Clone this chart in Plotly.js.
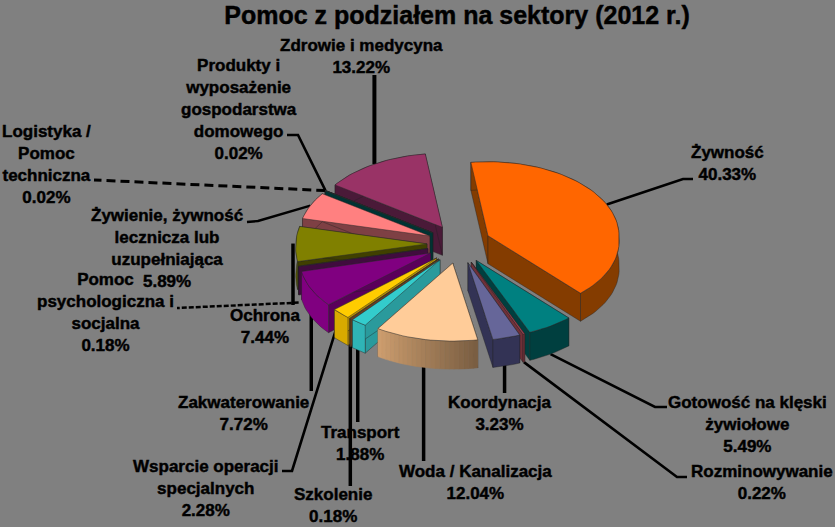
<!DOCTYPE html>
<html><head><meta charset="utf-8">
<script src="https://cdn.plot.ly/plotly-3.0.1.min.js"></script>
<style>html,body{margin:0;padding:0;background:#808080}#c{width:835px;height:527px}
svg text{stroke:#000;stroke-width:.45px}</style></head>
<body><div id="c"></div>
<script>
// ---- data ----
const sectors = ["Żywność","Gotowość na klęski żywiołowe","Rozminowywanie","Koordynacja","Woda / Kanalizacja","Transport","Szkolenie","Wsparcie operacji specjalnych","Zakwaterowanie","Pomoc psychologiczna i socjalna","Ochrona","Żywienie, żywność lecznicza lub uzupełniająca","Logistyka / Pomoc techniczna","Produkty i wyposażenie gospodarstwa domowego","Zdrowie i medycyna"];
const shares = [40.33,5.49,0.22,3.23,12.04,1.88,0.18,2.28,7.72,0.18,7.44,5.89,0.02,0.02,13.22];
const labelLines = [["Żywność"],["Gotowość na klęski","żywiołowe"],["Rozminowywanie"],["Koordynacja"],["Woda / Kanalizacja"],["Transport"],["Szkolenie"],["Wsparcie operacji","specjalnych"],["Zakwaterowanie"],["Pomoc","psychologiczna i","socjalna"],["Ochrona"],["Żywienie, żywność","lecznicza lub","uzupełniająca"],["Logistyka /","Pomoc","techniczna"],["Produkty i","wyposażenie","gospodarstwa","domowego"],["Zdrowie i medycyna"]];
// ---- styles ----
const topColors  = ["#FF6600","#008080","#A04050","#666699","#FFCC99","#33CCCC","#996633","#FFCC00","#800080","#4A1048","#808000","#FF8080","#003F3F","#003F3F","#993366"];
const sideColors = ["#843C00","#003F3F","#703038","#333355","#B08A60","#2A9A9C","#6A4020","#B89000","#5A005A","#400C3E","#404000","#7E4044","#003333","#003333","#4A1A38"];
const rimColors  = ["#843C00","#003F3F","#703038","#333355",null,"#2FB4B6","#6A4020","#D8AA00","#800080","#400C3E","#555500","#7E4044","#003333","#003333","#4A1A38"];
const rimGrad = ["#D0A070","#7A5E42"];
// ---- layout of labels ----
const labelPos = [[727,163],[747,424],[762,482],[500,413],[475,482],[360,443],[333,505],[206,488],[243,413],[105,312],[265,326],[167,248],[46,164],[239,109],[361,56]];
const leaders = [
 {i:0,pts:[[683,179],[693,179]],w:2.6},{i:1,oy:28,pts:[[655,407],[667,407]],w:2.6},{i:2,oy:28,pts:[[677,477],[687,477]],w:2.6},
 {i:3,v:393,dx:-2,w:3.5},{i:4,v:461,dx:-2,w:3.5},{i:5,v:422,dx:-1,w:3.5},{i:6,v:486,dx:0,w:3.5},{i:7,pts:[[292,471],[282,471]],w:2.6},
 {i:8,v:391,dx:0,w:3.5},{i:9,oy:36,pts:[[188,308],[177,308]],w:2.5,d:"5px,2px"},{i:10,v:305,dx:-3,w:3.5},{i:11,pts:[[258,221],[247,222]],w:2.4},
 {i:12,pts:[[94,180]],w:3,d:"9px,5px"},{i:13,pts:[[298,135],[287,135]],w:2.6},{i:14,v:75,w:4}
];
const G = {cx:459,cy:244,rx:131,rxFrontExtra:8,ryBack:74,ryFront:78,pullX:32,pullY:19.5,depth:28,start:-7.5};
// ---- geometry ----
const rad = d=>d*Math.PI/180;
const total = shares.reduce((a,b)=>a+b,0);
let acc = 0;
const slices = shares.map((v,i)=>{
  const a0 = G.start + acc/total*360; acc += v; const a1 = G.start + acc/total*360;
  const m = (a0+a1)/2;
  return {i,a0,a1,m,ax:G.cx+Math.sin(rad(m))*G.pullX,ay:G.cy-Math.cos(rad(m))*G.pullY};
});
const rim = (s,a)=>{const c=Math.cos(rad(a));return [s.ax+Math.sin(rad(a))*(G.rx+G.rxFrontExtra*Math.max(0,-c)), s.ay-c*(c<0?G.ryFront:G.ryBack)];};
const poly = (pts,fill,line,lw)=>({type:"scatter",mode:"lines",x:pts.map(p=>p[0]),y:pts.map(p=>p[1]),fill:"toself",fillcolor:fill,line:{color:line||fill,width:lw===undefined?0.6:lw},hoverinfo:"skip",showlegend:false});
const arcPts = (s,n)=>{const o=[];for(let k=0;k<=n;k++)o.push(rim(s,s.a0+(s.a1-s.a0)*k/n));return o;};
const down = p=>[p[0],p[1]+G.depth];
const mix=(a,b,t)=>{const h=c=>[1,3,5].map(j=>parseInt(c.substr(j,2),16));const A=h(a),B=h(b);return "rgb("+A.map((v,j)=>Math.round(v+(B[j]-v)*t)).join(",")+")";};

const traces = [];
// leader lines under the pie
leaders.forEach(l=>{
  const s = slices[l.i], r = rim(s,s.m), st=[r[0]+(l.dx||0),r[1]+(l.oy||0)];
  const pts = l.v!==undefined ? [st,[st[0],l.v]] : [st,...l.pts];
  traces.push({type:"scatter",mode:"lines",x:pts.map(p=>p[0]),y:pts.map(p=>p[1]),line:{color:"#000",width:l.w,dash:l.d||"solid"},hoverinfo:"skip",showlegend:false});
});
// slices, back to front
[...slices].sort((a,b)=>Math.cos(rad(b.m))-Math.cos(rad(a.m))).forEach(s=>{
  const arc = arcPts(s,Math.max(2,Math.ceil((s.a1-s.a0)/2)));
  const apex=[s.ax,s.ay], side=sideColors[s.i];
  traces.push(poly([apex,arc[0],down(arc[0]),down(apex),apex],side,"#222",0.4));
  traces.push(poly([apex,arc[arc.length-1],down(arc[arc.length-1]),down(apex),apex],side,"#222",0.4));
  if(rimColors[s.i]){
    traces.push(poly([...arc,...arc.slice().reverse().map(down),arc[0]],rimColors[s.i],"#222",0.4));
  } else {
    for(let k=0;k<arc.length-1;k++){
      const c=mix(rimGrad[0],rimGrad[1],1-k/(arc.length-1));
      traces.push(poly([arc[k],arc[k+1],down(arc[k+1]),down(arc[k]),arc[k]],c,c,0.5));
    }
  }
  traces.push(poly([apex,...arc,apex],topColors[s.i],"#2a2a2a",0.5));
});

const font = {family:"Liberation Sans, Arial, sans-serif",size:17,color:"#000"};
const annotations = sectors.map((n,i)=>({
  x:labelPos[i][0],y:labelPos[i][1],xref:"x",yref:"y",showarrow:false,xanchor:"center",yanchor:"middle",align:"center",
  text:"<b>"+labelLines[i].concat([shares[i].toFixed(2)+"%"]).join("<br>")+"</b>",font
}));
Plotly.newPlot("c",traces,{
  width:835,height:527,margin:{l:0,r:0,t:0,b:0},paper_bgcolor:"#808080",plot_bgcolor:"#808080",showlegend:false,
  title:{text:"<b>Pomoc z podziałem na sektory (2012 r.)</b>",x:457/835,xanchor:"center",y:1-15/527,yanchor:"middle",font:{family:"Liberation Sans, Arial, sans-serif",size:25,color:"#000"}},
  xaxis:{range:[0,835],visible:false,fixedrange:true},
  yaxis:{range:[527,0],visible:false,fixedrange:true},
  annotations
},{displayModeBar:false,staticPlot:true});
</script></body></html>
